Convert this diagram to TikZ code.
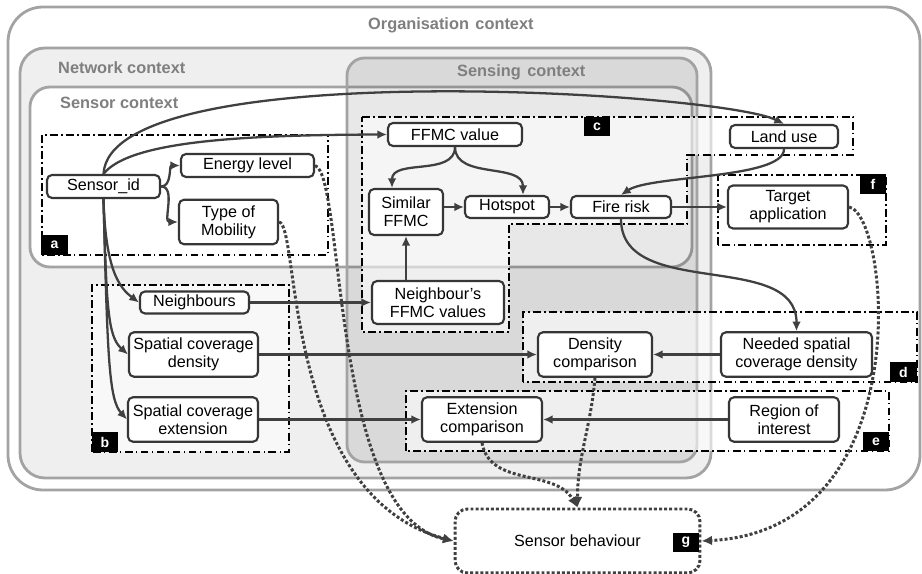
\documentclass[tikz,border=0pt]{standalone}
\usepackage{fontspec}
\setmainfont{Liberation Sans}
\usetikzlibrary{arrows.meta}

\definecolor{ctxgray}{HTML}{A3A3A3}
\definecolor{ctxtext}{HTML}{7F7F7F}
\definecolor{netgray}{HTML}{EFEFEF}
\definecolor{boxgray}{HTML}{363636}
\definecolor{arrowgray}{HTML}{404040}

\tikzset{
  context/.style={draw=ctxgray, line width=1.6pt, rounded corners=#1},
  ctxname/.style={anchor=west, text=ctxtext, font=\fontsize{9.3}{11}\selectfont\bfseries},
  group/.style={draw=black, line width=0.7pt, fill=white, fill opacity=0.6,
    dash pattern=on 4.5pt off 1.8pt on 1pt off 1.8pt},
  tag/.style={fill=black, text=white, inner sep=0pt, minimum width=0.53cm,
    minimum height=0.39cm, font=\fontsize{8}{9}\selectfont\bfseries},
  item/.style={draw=boxgray, line width=1.2pt, fill=white, rounded corners=0.1cm,
    align=center, inner sep=1pt, font=\fontsize{9.2}{10.2}\selectfont},
  one/.style={item, minimum height=0.46cm, minimum width=#1},
  two/.style={item, minimum height=0.89cm, minimum width=#1},
  link/.style={draw=arrowgray, line width=1.3pt, -{Latex[length=5.5pt,width=5pt]}},
  effect/.style={draw=arrowgray, line width=1.7pt, dash pattern=on 1.7pt off 1.2pt,
    -{Latex[length=6pt,width=5.5pt]}},
}

\begin{document}
\begin{tikzpicture}[x=0.02cm, y=0.02cm]
\useasboundingbox (0,0) rectangle (922,574);

% Nested contexts, outermost first
\draw[context=0.7cm, fill=white] (8,84) rectangle (920,567);
\draw[context=0.5cm, fill=netgray] (20,96) rectangle (711,526);
\draw[context=0.4cm, fill=white] (30,307) rectangle (692,487);
\draw[context=0.35cm, fill=black, fill opacity=0.09] (347,112) rectangle (697,516);
\node[ctxname] (orgname) at (362,549) {Organisation\hspace{0.12em} context};
\node[ctxname] (netname) at (52,506) {Network context};
\node[ctxname] (sensingname) at (451,502) {Sensing\hspace{0.12em} context};
\node[ctxname] (sensorname) at (54,471) {Sensor context};

% Dash-dot groups a to f
\draw[group] (42,319) rectangle (328,439);
\draw[group] (92,122) rectangle (289,289);
\draw[group] (362,457) -- (853,457) -- (853,419) -- (687,419) -- (687,350)
  -- (509,350) -- (509,242) -- (362,242) -- cycle;
\draw[group] (523,192) rectangle (917,262);
\draw[group] (406,123) rectangle (889,183);
\draw[group] (718,329) rectangle (886,399);

% Context items
\node[one=2.26cm] (sid) at (103.5,387.5) {Sensor\_id};
\node[one=2.66cm] (energy) at (247.5,408.5) {Energy level};
\node[two=1.98cm] (mob) at (228.5,352) {Type of\\Mobility};
\node[one=2.68cm] (ffmc) at (455,439.5) {FFMC value};
\node[two=1.48cm, minimum height=0.92cm] (sim) at (406,362) {Similar\\FFMC};
\node[one=1.68cm, minimum height=0.44cm] (hot) at (507,367) {Hotspot};
\node[one=2cm, minimum height=0.44cm] (fire) at (621,367) {Fire risk};
\node[one=2.16cm] (land) at (784,437.5) {Land use};
\node[two=2.4cm, minimum height=0.86cm] (target) at (788,367) {Target\\application};
\node[one=2.18cm, minimum height=0.44cm] (nb) at (194.5,271.5) {Neighbours};
\node[two=2.64cm, minimum height=0.86cm] (nffmc) at (438,271.5) {Neighbour’s\\FFMC values};
\node[two=2.58cm] (scd) at (193.5,219.5) {Spatial coverage\\density};
\node[two=2.6cm] (sce) at (193,154.5) {Spatial coverage\\extension};
\node[two=2.28cm] (dens) at (595,219.5) {Density\\comparison};
\node[two=3.02cm] (need) at (796.5,219.5) {Needed spatial\\coverage density};
\node[two=2.4cm] (ext) at (482,154.5) {Extension\\comparison};
\node[two=2.2cm] (roi) at (784,154.5) {Region of\\interest};
\node[item, draw=arrowgray, line width=1.7pt, dash pattern=on 1.7pt off 1.2pt,
  rounded corners=0.25cm, minimum width=4.9cm, minimum height=1.28cm]
  (sb) at (577.5,33) {Sensor behaviour};

% Group tags
\node[tag] (taga) at (54.5,329) {a};
\node[tag] (tagb) at (105,132) {b};
\node[tag] (tagc) at (597,447.5) {c};
\node[tag] (tagd) at (903.5,202) {d};
\node[tag] (tage) at (876,132.5) {e};
\node[tag] (tagf) at (873,390) {f};
\node[tag] (tagg) at (686,31.5) {g};

% Links from Sensor_id
\draw[link] (sid.east) to[out=0,in=180] (energy.west);
\draw[link] (sid.east) to[out=0,in=180] (mob.west);
\draw[link] (sid.north) .. controls (130,434) and (250,439) .. (ffmc.west);
\draw[link] (sid.north) .. controls (110,520) and (720,482) .. (land.north);
\draw[link] (sid.south) .. controls +(2,-70) and +(-20,15) .. (nb.west);
\draw[link] (sid.south) .. controls +(3,-110) and +(-20,18) .. (scd.west);
\draw[link] (sid.south) .. controls +(4,-160) and +(-18,20) .. (sce.west);

% Fire risk chain
\draw[link] (ffmc.south) to[out=-90,in=90] ([xshift=-0.28cm]sim.north);
\draw[link] (ffmc.south) to[out=-90,in=90] ([xshift=0.32cm]hot.north);
\draw[link] (sim.east |- hot.west) -- (hot.west);
\draw[link] (hot.east) -- (fire.west);
\draw[link] (fire.east) -- (target.west);
\draw[link] (nb.east) -- (nffmc.west);
\draw[link] (sim.south |- nffmc.north) -- (sim.south);
\draw[link] (land.south) .. controls +(0,-30) and +(30,20) .. (fire.north);
\draw[link] (fire.south) to[out=-90,in=90] (need.north);

% Comparisons
\draw[link] (scd.east) -- (dens.west);
\draw[link] (need.west) -- (dens.east);
\draw[link] (sce.east) -- (ext.west);
\draw[link] (roi.west) -- (ext.east);

% Effects on the sensor behaviour
\draw[effect] (energy.east) .. controls (345,399) and (330,59) .. (sb.west);
\draw[effect] (mob.east) .. controls (300,349) and (282,79) .. (sb.west);
\draw[effect] (dens.south) to[out=-95,in=90] (sb.north);
\draw[effect] (ext.south) to[out=-80,in=120] (sb.north);
\draw[effect] (target.east) .. controls (890,359) and (920,44) .. (sb.east);
\end{tikzpicture}
\end{document}
